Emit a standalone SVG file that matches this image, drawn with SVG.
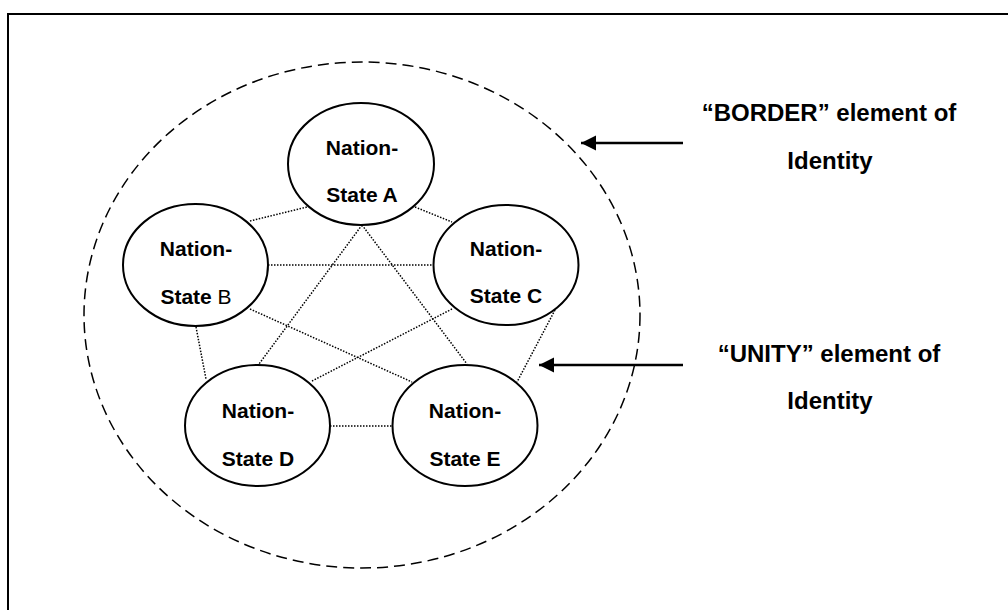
<svg xmlns="http://www.w3.org/2000/svg" width="1008" height="610" viewBox="0 0 1008 610">
<defs>
<style>
.node{fill:#fff;stroke:#000;stroke-width:2}
.nt{font-family:"Liberation Sans",Arial,sans-serif;font-weight:bold;font-size:21px;text-anchor:middle;fill:#000}
.lbl{font-family:"Liberation Sans",Arial,sans-serif;font-weight:bold;font-size:24px;text-anchor:middle;fill:#000}
.dot{stroke:#000;stroke-width:1.5;stroke-dasharray:1.5 1.5;fill:none}
.arr{stroke:#000;stroke-width:2.5;fill:none}
</style>
<marker id="ah" markerWidth="16" markerHeight="16" refX="15" refY="7.5" orient="auto" markerUnits="userSpaceOnUse">
<path d="M0,0 L15,7.5 L0,15 Z" fill="#000"/>
</marker>
</defs>
<rect x="8" y="14" width="1010" height="610" fill="#fff" stroke="#000" stroke-width="2"/>
<g id="border">
<ellipse cx="362" cy="315" rx="278" ry="253" fill="none" stroke="#000" stroke-width="1.5" stroke-dasharray="11 6"/>
</g>
<g id="connectors">
<line class="dot" x1="250" y1="221" x2="307" y2="207"/>
<line class="dot" x1="415" y1="207" x2="452" y2="222"/>
<line class="dot" x1="268" y1="265" x2="434" y2="265"/>
<line class="dot" x1="362" y1="225" x2="259" y2="364"/>
<line class="dot" x1="362" y1="225" x2="467" y2="364"/>
<line class="dot" x1="250" y1="309" x2="412" y2="382"/>
<line class="dot" x1="452" y1="309" x2="312" y2="381"/>
<line class="dot" x1="196" y1="327" x2="206" y2="379"/>
<line class="dot" x1="555" y1="310" x2="517" y2="382"/>
<line class="dot" x1="330" y1="426" x2="393" y2="426"/>
<line class="arr" x1="683" y1="143" x2="581" y2="143" marker-end="url(#ah)"/>
<line class="arr" x1="683" y1="365" x2="539" y2="365" marker-end="url(#ah)"/>
</g>
<g id="nodeA">
<ellipse class="node" cx="361" cy="164" rx="73" ry="61"/>
<text class="nt" x="362" y="155">Nation-</text>
<text class="nt" x="362" y="202">State A</text>
</g>
<g id="nodeB">
<ellipse class="node" cx="195.5" cy="265" rx="72.5" ry="61"/>
<text class="nt" x="196" y="256">Nation-</text>
<text class="nt" x="196" y="304">State <tspan font-weight="normal">B</tspan></text>
</g>
<g id="nodeC">
<ellipse class="node" cx="506" cy="265" rx="72.5" ry="60"/>
<text class="nt" x="506" y="256">Nation-</text>
<text class="nt" x="506" y="303">State C</text>
</g>
<g id="nodeD">
<ellipse class="node" cx="257.5" cy="425.5" rx="72.5" ry="60.5"/>
<text class="nt" x="258" y="418">Nation-</text>
<text class="nt" x="258" y="466">State D</text>
</g>
<g id="nodeE">
<ellipse class="node" cx="465" cy="425.5" rx="72.5" ry="60.5"/>
<text class="nt" x="465" y="418">Nation-</text>
<text class="nt" x="465" y="466">State E</text>
</g>
<g id="labelBorder">
<text class="lbl" x="829" y="121">“BORDER” element of</text>
<text class="lbl" x="830" y="169">Identity</text>
</g>
<g id="labelUnity">
<text class="lbl" x="829" y="362">“UNITY” element of</text>
<text class="lbl" x="830" y="409">Identity</text>
</g>
</svg>
